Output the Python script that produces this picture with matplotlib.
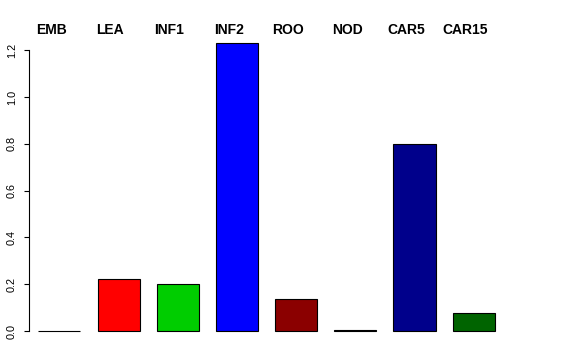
import matplotlib
matplotlib.use("Agg")
import matplotlib.pyplot as plt
import matplotlib.transforms as mtransforms
import numpy as np

plt.rcParams['font.family'] = ['Liberation Sans', 'DejaVu Sans']

# tissue expression values
tissues = ['EMB', 'LEA', 'INF1', 'INF2', 'ROO', 'NOD', 'CAR5', 'CAR15']
values = [0.001, 0.221, 0.201, 1.232, 0.137, 0.003, 0.798, 0.078]
colors = ['black', 'red', '#00CD00', 'blue', '#8B0000', 'black', '#00008B', '#006400']

fig = plt.figure(figsize=(5.76, 3.6), dpi=100)
ax = fig.add_axes([0.0509, 0.048, 0.8236, 0.8642])

ind = np.arange(len(tissues))
ax.bar(ind, values, 0.71, color=colors, edgecolor='black', linewidth=0.8)

ax.set_xlim(-0.507, 7.507)
ax.set_ylim(-0.05, 1.28)

for s in ['top', 'right', 'bottom']:
    ax.spines[s].set_visible(False)
ax.spines['left'].set_bounds(0, 1.2)
ax.spines['left'].set_linewidth(0.8)
ax.set_xticks([])
ax.set_yticks([0.0, 0.2, 0.4, 0.6, 0.8, 1.0, 1.2])
ax.set_yticklabels(['0.0', '0.2', '0.4', '0.6', '0.8', '1.0', '1.2'],
                   rotation=90, va='center', fontsize=7.8)
ax.tick_params(axis='y', length=3.8, width=0.8, pad=5)

# names along the top
trans = mtransforms.blended_transform_factory(ax.transData, fig.transFigure)
for i, name in enumerate(tissues):
    ax.text(i - 0.14, 0.9056, name, transform=trans, ha='center', va='baseline',
            fontsize=10, fontweight='bold', clip_on=False)

fig.savefig('out.png', dpi=100)
